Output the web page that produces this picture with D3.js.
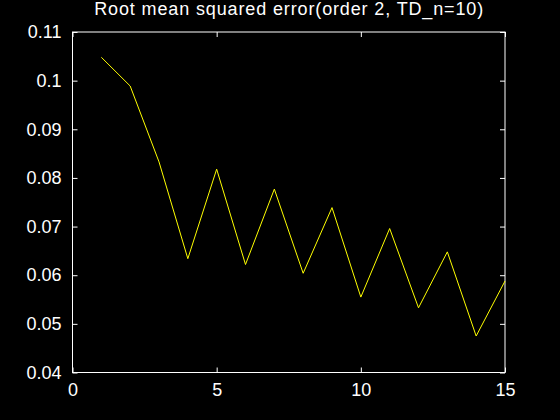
<!DOCTYPE html>
<html>
<head>
<meta charset="utf-8">
<script src="https://cdn.jsdelivr.net/npm/d3@7"></script>
<style>
  html, body { margin: 0; padding: 0; background: #000; }
  svg { display: block; }
  .tick text { font-family: "Liberation Sans", Arial, sans-serif; }
</style>
</head>
<body>
<div id="plot"></div>
<script>
// data
const iterations = [1, 2, 3, 4, 5, 6, 7, 8, 9, 10, 11, 12, 13, 14, 15];
const rmse = [0.1048, 0.0989, 0.0833, 0.0634, 0.0818, 0.0622, 0.0777, 0.0604,
              0.0739, 0.0555, 0.0696, 0.0533, 0.0648, 0.0475, 0.0588];
const xTicks = [0, 5, 10, 15];
const yTicks = [0.04, 0.05, 0.06, 0.07, 0.08, 0.09, 0.1, 0.11];
const titleText = "Root mean squared error(order 2, TD_n=10)";

const margin = {top: 32, right: 55, bottom: 47.5, left: 72.5};
const width = 560 - margin.left - margin.right;
const height = 420 - margin.top - margin.bottom;

const svg = d3.select("#plot")
  .append("svg")
  .attr("width", 560)
  .attr("height", 420)
  .style("background", "#000");

const g = svg.append("g")
  .attr("transform", `translate(${margin.left},${margin.top})`);

const x = d3.scaleLinear().domain([0, 15]).range([0, width]);
const y = d3.scaleLinear().domain([0.04, 0.11]).range([height, 0]);

const fmt = d => String(+d.toFixed(2));

// box with inward ticks on all sides
function styleAxis(sel, showLabels) {
  sel.select(".domain").remove();
  sel.selectAll(".tick line").attr("stroke", "#fff");
  sel.selectAll(".tick text")
    .attr("fill", "#fff")
    .style("font-size", "18px")
    .style("display", showLabels ? null : "none");
}

g.append("g")
  .attr("transform", `translate(0,${height})`)
  .call(d3.axisBottom(x).tickValues(xTicks).tickSize(-5).tickPadding(11).tickFormat(fmt))
  .call(s => styleAxis(s, true));

g.append("g")
  .call(d3.axisTop(x).tickValues(xTicks).tickSize(-5).tickFormat(""))
  .call(s => styleAxis(s, false));

g.append("g")
  .call(d3.axisLeft(y).tickValues(yTicks).tickSize(-5).tickPadding(11).tickFormat(fmt))
  .call(s => styleAxis(s, true));

g.append("g")
  .attr("transform", `translate(${width},0)`)
  .call(d3.axisRight(y).tickValues(yTicks).tickSize(-5).tickFormat(""))
  .call(s => styleAxis(s, false));

g.append("rect")
  .attr("x", 0).attr("y", 0)
  .attr("width", width).attr("height", height)
  .attr("fill", "none")
  .attr("stroke", "#fff")
  .attr("stroke-width", 1);

const line = d3.line()
  .x((d, i) => x(iterations[i]))
  .y(d => y(d));

g.append("path")
  .datum(rmse)
  .attr("fill", "none")
  .attr("stroke", "#ffff00")
  .attr("stroke-width", 1)
  .attr("d", line);

svg.append("text")
  .attr("x", margin.left + width / 2)
  .attr("y", 15)
  .attr("text-anchor", "middle")
  .attr("fill", "#fff")
  .attr("textLength", 389)
  .attr("lengthAdjust", "spacing")
  .style("font-family", "'Liberation Sans', Arial, sans-serif")
  .style("font-size", "18px")
  .text(titleText);
</script>
</body>
</html>
